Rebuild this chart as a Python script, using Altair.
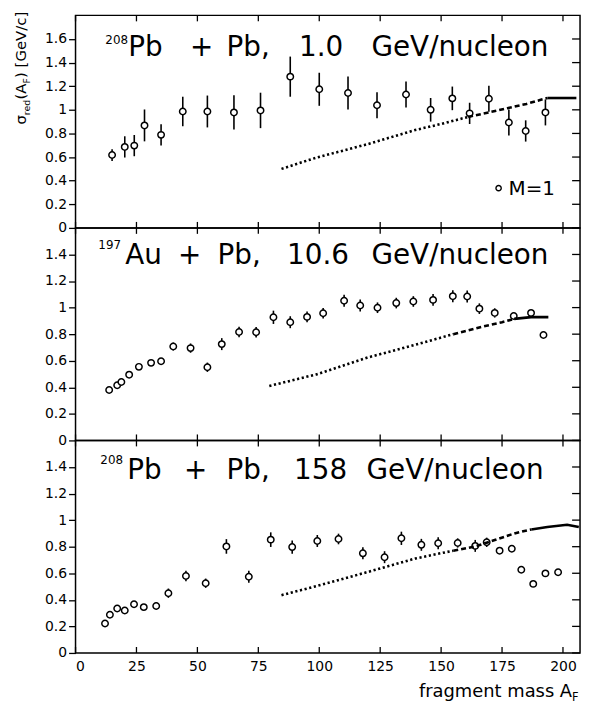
import altair as alt
import pandas as pd

FONT = "DejaVu Sans"
XMAX = 207
W = 508
H = 214

# ---------------- data ----------------
# Panel 1: 208Pb + Pb, 1.0 GeV/nucleon
p1_x = [15.0, 20.2, 24.1, 28.3, 35.1, 44.0, 54.1, 65.0, 75.9, 88.1, 100.0, 111.8,
        123.7, 135.6, 145.7, 154.6, 161.7, 169.6, 177.8, 184.7, 192.8]
p1_y = [0.617, 0.686, 0.697, 0.868, 0.788, 0.986, 0.986, 0.978, 0.995, 1.281, 1.174,
        1.143, 1.039, 1.13, 1.0, 1.097, 0.97, 1.094, 0.893, 0.821, 0.978]
p1_err = [0.05, 0.09, 0.09, 0.135, 0.09, 0.125, 0.135, 0.145, 0.15, 0.17, 0.14,
          0.14, 0.11, 0.11, 0.10, 0.10, 0.09, 0.11, 0.11, 0.09, 0.11]
t1_x = [84.5, 98.8, 120, 139.4, 150, 161.1, 170, 177.2, 185, 190.9, 193.6, 200, 205.5]
t1_y = [0.50, 0.595, 0.71, 0.829, 0.88, 0.94, 0.98, 1.014, 1.05, 1.085, 1.10, 1.10, 1.10]
t1_breaks = [5, 10]

# Panel 2: 197Au + Pb, 10.6 GeV/nucleon
p2_x = [13.8, 17.1, 18.8, 22.0, 26.0, 31.0, 35.1, 40.1, 47.2, 54.1, 60.0, 67.1, 74.1,
        81.2, 88.1, 95.0, 101.6, 110.2, 116.8, 123.9, 131.6, 138.6, 146.7, 154.8,
        160.7, 165.7, 172.0, 179.8, 186.9, 192.0]
p2_y = [0.38, 0.415, 0.44, 0.495, 0.554, 0.584, 0.596, 0.707, 0.695, 0.551, 0.725,
        0.816, 0.814, 0.927, 0.89, 0.93, 0.957, 1.051, 1.016, 0.999, 1.034, 1.046,
        1.058, 1.086, 1.083, 0.992, 0.96, 0.937, 0.96, 0.794]
p2_err = [0.015, 0.015, 0.015, 0.015, 0.02, 0.02, 0.02, 0.03, 0.035, 0.035, 0.045,
          0.04, 0.04, 0.05, 0.045, 0.04, 0.04, 0.045, 0.045, 0.04, 0.04, 0.04, 0.045,
          0.045, 0.045, 0.04, 0.035, 0.02, 0.02, 0.015]
t2_x = [79.5, 98.8, 120, 139.4, 155, 166.5, 175, 180, 186.9, 194]
t2_y = [0.41, 0.497, 0.625, 0.72, 0.80, 0.855, 0.89, 0.915, 0.928, 0.928]
t2_breaks = [4, 7]

# Panel 3: 208Pb + Pb, 158 GeV/nucleon
p3_x = [12.1, 14.1, 17.1, 20.2, 24.0, 28.0, 33.1, 38.1, 45.3, 53.4, 61.9, 71.1, 80.1,
        88.9, 99.2, 107.9, 117.9, 126.8, 133.7, 141.9, 148.8, 156.8, 164.0, 168.7,
        174.0, 179.0, 182.9, 187.8, 192.8, 198.0]
p3_y = [0.222, 0.288, 0.335, 0.32, 0.367, 0.345, 0.354, 0.45, 0.579, 0.525, 0.802,
        0.574, 0.853, 0.797, 0.843, 0.858, 0.75, 0.721, 0.863, 0.814, 0.826, 0.828,
        0.806, 0.833, 0.77, 0.784, 0.626, 0.52, 0.599, 0.608]
p3_err = [0.01, 0.01, 0.015, 0.015, 0.02, 0.02, 0.025, 0.035, 0.04, 0.035, 0.055,
          0.045, 0.055, 0.05, 0.045, 0.04, 0.045, 0.045, 0.05, 0.045, 0.045, 0.035,
          0.045, 0.035, 0.02, 0.02, 0.01, 0.01, 0.01, 0.01]
t3_x = [84.5, 98.8, 120, 139.4, 155, 163.8, 172, 180.1, 187, 193.6, 201.7, 206.5]
t3_y = [0.435, 0.503, 0.61, 0.711, 0.77, 0.801, 0.85, 0.90, 0.93, 0.948, 0.965, 0.948]
t3_breaks = [4, 8]

x_ticks = [0, 25, 50, 75, 100, 125, 150, 175, 200]
y_ticks_top = [0, 0.2, 0.4, 0.6, 0.8, 1, 1.2, 1.4, 1.6]
y_ticks = [0, 0.2, 0.4, 0.6, 0.8, 1, 1.2, 1.4]


def txt(s, x, y, size, align="left", angle=0):
    return alt.Chart(pd.DataFrame({"s": [s]})).mark_text(
        align=align, baseline="alphabetic", fontSize=size, angle=angle,
        font=FONT, color="black"
    ).encode(text="s:N", x=alt.value(x), y=alt.value(y))


def panel(px, py, perr, tx, ty, breaks, yticks, ymax, show_x, texts):
    xs = alt.Scale(domain=[0, XMAX], nice=False, zero=False)
    ys = alt.Scale(domain=[0, ymax], nice=False)
    if show_x:
        xaxis = alt.Axis(values=x_ticks, tickSize=0, labelPadding=7, labelFontSize=14,
                         labelFont=FONT, labelColor="black", domain=False, grid=False,
                         title=None)
    else:
        xaxis = None
    yaxis = alt.Axis(values=yticks, format="~g", tickSize=7, tickWidth=1.3,
                     tickColor="black", labelPadding=2, labelFontSize=14, labelFont=FONT,
                     labelColor="black", domain=False, grid=False, title=None)
    X = lambda f: alt.X(f, scale=xs, axis=xaxis)
    Y = lambda f: alt.Y(f, scale=ys, axis=yaxis)

    df = pd.DataFrame({"x": px, "y": py,
                       "lo": [a - b for a, b in zip(py, perr)],
                       "hi": [a + b for a, b in zip(py, perr)]})
    base = alt.Chart(df)
    err = base.mark_rule(color="black", strokeWidth=1.6).encode(
        x=X("x:Q"), y=Y("lo:Q"), y2="hi:Q")
    pts = base.mark_point(shape="circle", filled=True, fill="white", stroke="black",
                          strokeWidth=1.5, size=42, opacity=1).encode(
        x=X("x:Q"), y=Y("y:Q"))

    b1, b2 = breaks
    segs = [
        (tx[:b1 + 1], ty[:b1 + 1], [2.2, 2.6]),
        (tx[b1:b2 + 1], ty[b1:b2 + 1], [5, 3]),
        (tx[b2:], ty[b2:], None),
    ]
    lines = []
    for sx, sy, dash in segs:
        kw = dict(color="black", strokeWidth=2.6, strokeCap="butt")
        if dash:
            kw["strokeDash"] = dash
        lines.append(alt.Chart(pd.DataFrame({"x": sx, "y": sy})).mark_line(**kw).encode(
            x=X("x:Q"), y=Y("y:Q")))

    xt = alt.Chart(pd.DataFrame({"v": x_ticks}))
    top_t = xt.mark_rule(color="black", strokeWidth=1.3).encode(
        x=X("v:Q"), y=alt.value(0), y2=alt.value(6))
    bot_t = xt.mark_rule(color="black", strokeWidth=1.3).encode(
        x=X("v:Q"), y=alt.value(H - 6), y2=alt.value(H))
    right_t = alt.Chart(pd.DataFrame({"v": yticks})).mark_rule(
        color="black", strokeWidth=1.3).encode(
        y=Y("v:Q"), x=alt.value(W - 8), x2=alt.value(W))

    layers = [err, pts] + lines + [top_t, bot_t, right_t] + texts
    return alt.layer(*layers).properties(width=W, height=H)


texts1 = [
    txt("208", 30, 29, 12), txt("Pb", 53, 41, 28), txt("+", 127, 41, 28, align="center"),
    txt("Pb,", 152, 41, 28), txt("1.0", 225, 41, 28), txt("GeV/nucleon", 298, 41, 28),
    # legend
    alt.Chart(pd.DataFrame({"s": ["M=1"]})).mark_point(
        shape="circle", filled=True, fill="white", stroke="black", strokeWidth=1.4,
        size=28, opacity=1).encode(x=alt.value(426), y=alt.value(174)),
    txt("M=1", 436, 181, 20),
    # y-axis title pieces (rotated)
    txt("σ", -50, 110, 15, angle=270),
    txt("red", -46, 100.5, 9.5, angle=270),
    txt("(A", -50, 84.7, 15, angle=270),
    txt("F", -46, 68.6, 9.5, angle=270),
    txt(") [GeV/c]", -50, 63, 15, angle=270),
]
texts2 = [
    txt("197", 23, 21, 12), txt("Au", 50, 36, 28), txt("+", 115, 36, 28, align="center"),
    txt("Pb,", 143, 36, 28), txt("10.6", 213, 36, 28), txt("GeV/nucleon", 298, 36, 28),
]
texts3 = [
    txt("208", 25, 24, 12), txt("Pb", 52, 39, 28), txt("+", 121, 39, 28, align="center"),
    txt("Pb,", 152, 39, 28), txt("158", 220, 39, 28), txt("GeV/nucleon", 293, 39, 28),
    txt("fragment mass A", 500, H + 44, 18, align="right"),
    txt("F", 500, H + 48, 11.5),
]

c1 = panel(p1_x, p1_y, p1_err, t1_x, t1_y, t1_breaks, y_ticks_top, 1.8, False, texts1)
c2 = panel(p2_x, p2_y, p2_err, t2_x, t2_y, t2_breaks, y_ticks, 1.6, False, texts2)
c3 = panel(p3_x, p3_y, p3_err, t3_x, t3_y, t3_breaks, y_ticks, 1.6, True, texts3)

chart = alt.vconcat(c1, c2, c3, spacing=0, bounds="flush").properties(
    padding={"left": 5, "top": 0, "right": 0, "bottom": 0}
).configure(font=FONT).configure_view(stroke="black", strokeWidth=1.5)

chart.save("out.html", embed_options={"renderer": "svg", "actions": False})
